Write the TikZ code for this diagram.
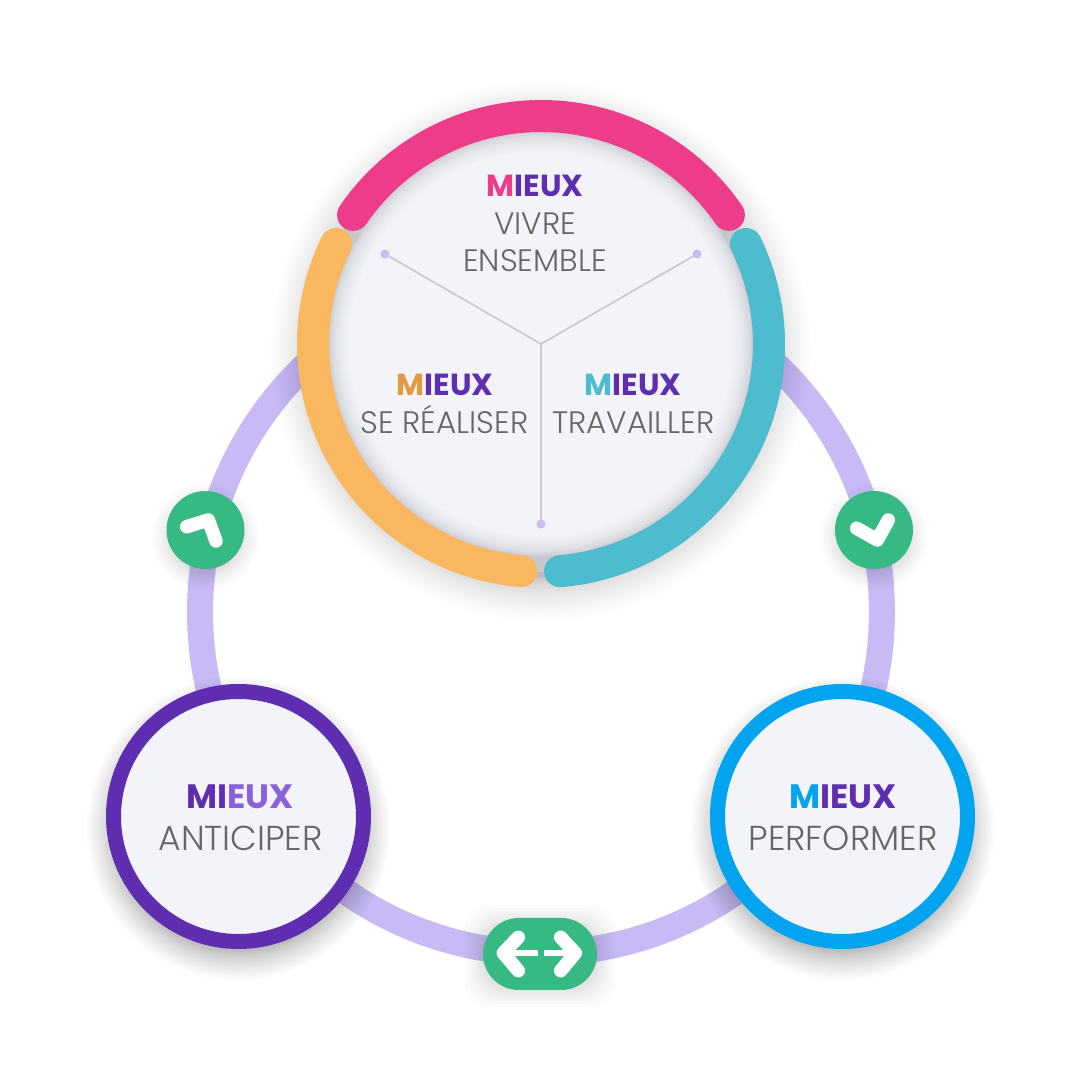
\documentclass[tikz,border=0pt]{standalone}
\usepackage{fontspec}
\setmainfont{Poppins Light}[BoldFont=Poppins Bold]
\usetikzlibrary{positioning}
\definecolor{ringlav}{HTML}{C8BAF5}
\definecolor{discfill}{HTML}{F3F3FA}
\definecolor{pinkarc}{HTML}{EC3C8A}
\definecolor{orangearc}{HTML}{F9B75F}
\definecolor{orangeletter}{HTML}{E29A40}
\definecolor{tealarc}{HTML}{4DBCCE}
\definecolor{violet}{HTML}{5F2EB0}
\definecolor{violetlt}{HTML}{8A60DC}
\definecolor{bluering}{HTML}{02A4F0}
\definecolor{greenbadge}{HTML}{37B983}
\definecolor{labelgrey}{HTML}{666666}
\definecolor{spokegrey}{HTML}{CDCBD1}
\newcommand{\mieux}[2]{\textbf{\textcolor{#1}{M}\textcolor{violet}{I}\textcolor{#2}{EUX}}}
\tikzset{
    x=1pt,y=1pt,
    caption/.style={text=labelgrey,font=\fontsize{31}{31}\selectfont,inner sep=0pt,anchor=base},
    captiontitle/.style={font=\fontsize{30.5}{31}\selectfont,inner sep=0pt,anchor=base},
    bigcaption/.style={text=labelgrey,font=\fontsize{34.6}{35}\selectfont,inner sep=0pt,anchor=base},
    bigtitle/.style={font=\fontsize{33.8}{35}\selectfont,inner sep=0pt,anchor=base},
    spokedot/.style={circle,fill=ringlav,minimum size=9pt,inner sep=0pt},
    spokeline/.style={spokegrey,line width=1.8pt},
    badge/.style={circle,fill=greenbadge,minimum size=78pt,inner sep=0pt},
    iconline/.style={draw=white,line width=13.5pt,line cap=round,line join=round},
    arcstroke/.style={line width=32pt,line cap=round},
    bigdisc/.style={circle,line width=15pt,fill=discfill,minimum size=250pt,inner sep=0pt}
}
\begin{document}
\begin{tikzpicture}
    \useasboundingbox (0,0) rectangle (1080,1080);
    \fill[white] (0,0) rectangle (1080,1080);
    \coordinate (ringc) at (541,468);
    \coordinate (topc) at (541,736);
    \coordinate (leftc) at (238.5,263.5);
    \coordinate (rightc) at (842.5,263.5);
    % big ring
    \draw[ringlav,line width=26pt] (ringc) circle[radius=341];
    % soft shadows
    \foreach \r in {0,...,32} {
        \fill[black,opacity=0.007] ([yshift=-7]topc) circle[radius=226+0.043*\r*\r];
        \fill[black,opacity=0.017] ([yshift=-12]leftc) circle[radius=112+0.039*\r*\r];
        \fill[black,opacity=0.017] ([yshift=-12]rightc) circle[radius=112+0.039*\r*\r];
    }
    \foreach \r in {0,...,14} {
        \fill[black,opacity=0.014] (205.5,543) circle[radius=28+0.13*\r*\r];
        \fill[black,opacity=0.014] (874,543) circle[radius=28+0.13*\r*\r];
        \fill[black,opacity=0.014,rounded corners=28pt] (490-0.13*\r*\r,98-0.13*\r*\r) rectangle (590+0.13*\r*\r,150+0.13*\r*\r);
    }
    % top disc
    \fill[discfill] (topc) circle[radius=228];
    \begin{scope}
        \clip (topc) circle[radius=228];
        \foreach \r in {0,...,14} {
            \draw[black,opacity=0.011,line width=32+0.2*\r*\r] (topc) circle[radius=228];
        }
    \end{scope}
    \draw[arcstroke,pinkarc] ([shift={(34.5:228)}]topc) arc[start angle=34.5,end angle=145.5,radius=228];
    \draw[arcstroke,orangearc] ([shift={(154:228)}]topc) arc[start angle=154,end angle=265,radius=228];
    \draw[arcstroke,tealarc] ([shift={(26:228)}]topc) arc[start angle=26,end angle=-85.2,radius=228];
    % spokes
    \node[spokedot] (dotleft) at (385,826) {};
    \node[spokedot] (dotright) at (697,826) {};
    \node[spokedot] (dotdown) at (541,556) {};
    \draw[spokeline] (topc) -- (dotleft.center);
    \draw[spokeline] (topc) -- (dotright.center);
    \draw[spokeline] (topc) -- (dotdown.center);
    % labels in the top disc
    \node[captiontitle] (vivretitle) at (535,883) {\mieux{pinkarc}{violet}};
    \node[caption] (vivre) at (535,845.3) {VIVRE};
    \node[caption] (ensemble) at (535,808) {ENSEMBLE};
    \node[captiontitle] (realisertitle) at (445,684) {\mieux{orangeletter}{violet}};
    \node[caption] (realiser) at (444.5,646.5) {SE RÉALISER};
    \node[captiontitle] (travaillertitle) at (633,684) {\mieux{tealarc}{violet}};
    \node[caption] (travailler) at (633.5,646.5) {TRAVAILLER};
    % lower circles
    \node[bigdisc,draw=violet] (anticiper) at (leftc) {};
    \node[bigdisc,draw=bluering] (performer) at (rightc) {};
    \node[bigtitle] (anticipertitle) at (240,271.7) {\mieux{violet}{violetlt}};
    \node[bigcaption] (anticiperlabel) at (240.5,229.5) {ANTICIPER};
    \node[bigtitle] (performertitle) at (843,271.7) {\mieux{bluering}{violet}};
    \node[bigcaption] (performerlabel) at (843,229.5) {PERFORMER};
    % badges
    \node[badge] (badgeleft) at (205.5,550) {};
    \node[badge] (badgeright) at (874,550) {};
    \node[fill=greenbadge,minimum width=114pt,minimum height=72pt,inner sep=0pt,rounded corners=36pt] (badgedown) at (540,126) {};
    \draw[iconline] (186.7,553.3) -- (208.3,560) -- (216,539);
    \draw[iconline] (856.7,551.7) -- (877.3,540) -- (888.3,560);
    \draw[iconline] (518.3,142.7) -- (503.3,127) -- (518.3,109.3);
    \draw[iconline] (560.7,142.7) -- (575.3,127) -- (560.7,109.3);
    \draw[white,line width=6.5pt] (503.3,127) -- (538.3,127);
    \draw[white,line width=6.5pt] (544.3,127) -- (575.3,127);
\end{tikzpicture}
\end{document}
